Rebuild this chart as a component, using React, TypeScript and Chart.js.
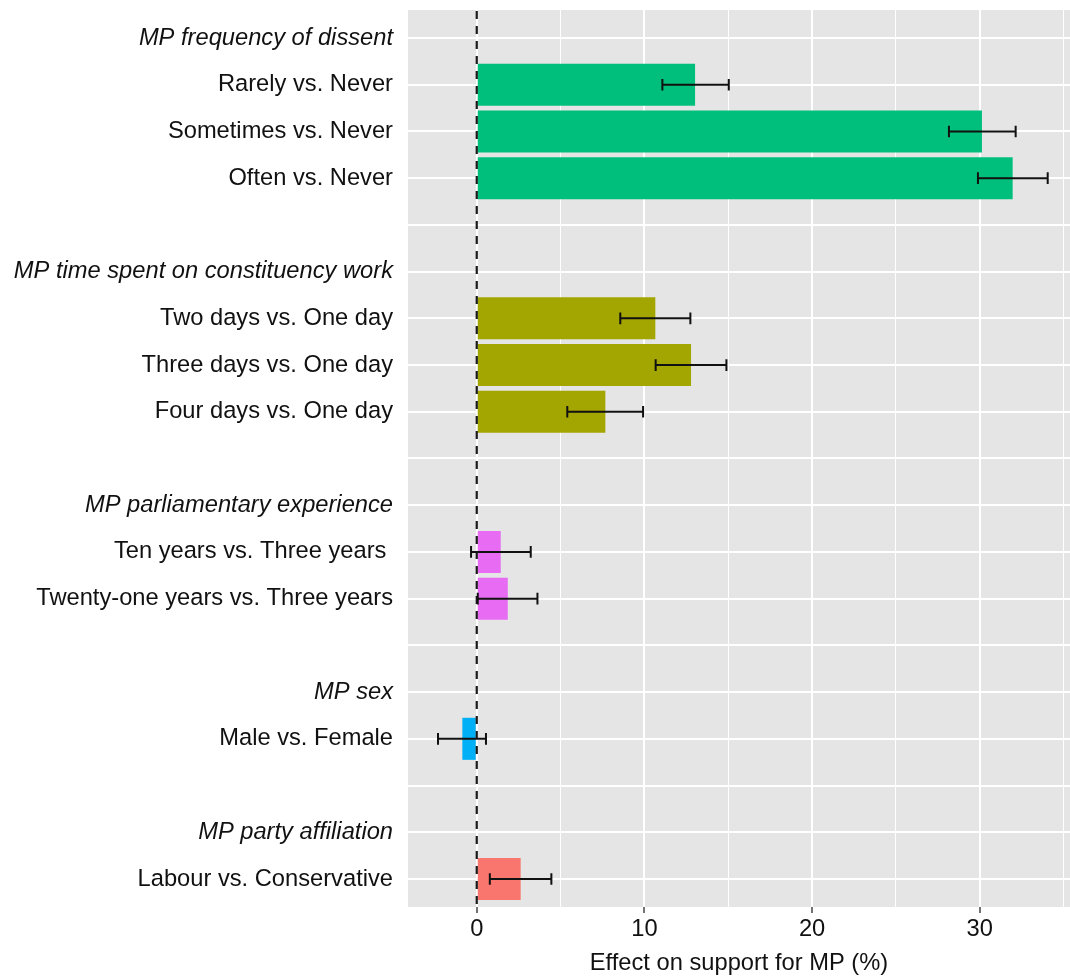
import React, { useEffect, useRef } from 'react';
import { Chart, registerables } from 'chart.js';

Chart.register(...registerables);

// ---- Data ----
const rowLabels: string[] = [
  'MP frequency of dissent',
  'Rarely vs. Never',
  'Sometimes vs. Never',
  'Often vs. Never',
  '',
  'MP time spent on constituency work',
  'Two days vs. One day',
  'Three days vs. One day',
  'Four days vs. One day',
  '',
  'MP parliamentary experience',
  'Ten years vs. Three years ',
  'Twenty-one years vs. Three years',
  '',
  'MP sex',
  'Male vs. Female',
  '',
  'MP party affiliation',
  'Labour vs. Conservative',
];

const headerLabels: string[] = [
  'MP frequency of dissent',
  'MP time spent on constituency work',
  'MP parliamentary experience',
  'MP sex',
  'MP party affiliation',
];

const itemLabels: string[] = [
  'Rarely vs. Never',
  'Sometimes vs. Never',
  'Often vs. Never',
  'Two days vs. One day',
  'Three days vs. One day',
  'Four days vs. One day',
  'Ten years vs. Three years ',
  'Twenty-one years vs. Three years',
  'Male vs. Female',
  'Labour vs. Conservative',
];

const effects: number[] = [13.02, 30.13, 31.96, 10.65, 12.78, 7.67, 1.43, 1.85, -0.86, 2.62];
const lowerCI: number[] = [11.07, 28.16, 29.89, 8.56, 10.67, 5.4, -0.34, 0.06, -2.31, 0.78];
const upperCI: number[] = [15.03, 32.14, 34.05, 12.74, 14.89, 9.92, 3.22, 3.62, 0.55, 4.45];
const itemGroup: number[] = [0, 0, 0, 1, 1, 1, 2, 2, 3, 4];
const groupColors: string[] = ['#00BF7D', '#A3A500', '#E76BF3', '#00B0F6', '#F8766D'];

const xTickValues: number[] = [0, 5, 10, 15, 20, 25, 30, 35];
const xMajorTicks: number[] = [0, 10, 20, 30];
const xTitle = 'Effect on support for MP (%)';

const FONT = "'Liberation Sans', Arial, Helvetica, sans-serif";
const FONT_SIZE = 23.7;
const TEXT_COLOR = '#111111';
const PANEL_BG = '#E5E5E5';

const panelPlugin = {
  id: 'panelBg',
  beforeDraw(chart: any) {
    const { ctx, chartArea } = chart;
    ctx.save();
    ctx.fillStyle = PANEL_BG;
    ctx.fillRect(chartArea.left, chartArea.top, chartArea.right - chartArea.left, chartArea.bottom - chartArea.top);
    ctx.restore();
  },
};

const overlayPlugin = {
  id: 'overlay',
  afterDatasetsDraw(chart: any) {
    const { ctx, chartArea, scales } = chart;
    const x = scales.x;
    const y = scales.y;
    ctx.save();
    // dashed zero reference line
    const x0 = x.getPixelForValue(0);
    ctx.strokeStyle = '#1a1a1a';
    ctx.lineWidth = 2.2;
    ctx.setLineDash([8, 7]);
    ctx.beginPath();
    ctx.moveTo(x0, chartArea.top + 1);
    ctx.lineTo(x0, chartArea.bottom);
    ctx.stroke();
    ctx.setLineDash([]);
    // error bars
    const step = Math.abs(y.getPixelForValue(1) - y.getPixelForValue(0));
    const half = step * 0.125;
    ctx.strokeStyle = '#111111';
    ctx.lineWidth = 2;
    itemLabels.forEach((lab, i) => {
      const yy = y.getPixelForValue(rowLabels.indexOf(lab));
      const xl = x.getPixelForValue(lowerCI[i]);
      const xr = x.getPixelForValue(upperCI[i]);
      ctx.beginPath();
      ctx.moveTo(xl, yy);
      ctx.lineTo(xr, yy);
      ctx.moveTo(xl, yy - half);
      ctx.lineTo(xl, yy + half);
      ctx.moveTo(xr, yy - half);
      ctx.lineTo(xr, yy + half);
      ctx.stroke();
    });
    ctx.restore();
  },
};

export default function App() {
  const canvasRef = useRef<HTMLCanvasElement | null>(null);

  useEffect(() => {
    const canvas = canvasRef.current;
    if (!canvas) return;
    const data = itemLabels.map((lab, i) => ({ x: effects[i], y: rowLabels.indexOf(lab) }));
    const colors = itemGroup.map((g) => groupColors[g]);

    const chart = new Chart(canvas, {
      type: 'bar',
      data: {
        datasets: [
          {
            data: data as any,
            backgroundColor: colors,
            borderWidth: 0,
            categoryPercentage: 1,
            barPercentage: 0.9,
          } as any,
        ],
      },
      plugins: [panelPlugin, overlayPlugin],
      options: {
        indexAxis: 'y',
        animation: false,
        responsive: false,
        maintainAspectRatio: false,
        layout: { padding: { top: 10, left: 0, right: 0, bottom: 0 } },
        plugins: {
          legend: { display: false },
          tooltip: { enabled: false },
          title: { display: false },
        },
        scales: {
          x: {
            type: 'linear',
            position: 'bottom',
            min: -4.1,
            max: 35.38,
            bounds: 'data',
            offset: false,
            afterBuildTicks: (scale: any) => {
              scale.ticks = xTickValues.map((v) => ({ value: v }));
            },
            afterFit: (scale: any) => {
              scale.height = 73;
              scale.paddingLeft = 0;
              scale.paddingRight = 0;
            },
            border: { display: false },
            grid: {
              offset: false,
              color: '#FFFFFF',
              lineWidth: (ctx: any) => (xMajorTicks.includes(ctx.tick?.value) ? 2 : 1),
              drawTicks: true,
              tickLength: 6,
              tickWidth: 1.5,
              tickColor: (ctx: any) => (xMajorTicks.includes(ctx.tick?.value) ? '#444444' : 'rgba(0,0,0,0)'),
            },
            ticks: {
              autoSkip: false,
              maxRotation: 0,
              padding: 2,
              color: TEXT_COLOR,
              font: { family: FONT, size: FONT_SIZE },
              callback: (value: any) => (xMajorTicks.includes(Number(value)) ? String(value) : ''),
            },
            title: {
              display: true,
              text: xTitle,
              color: TEXT_COLOR,
              font: { family: FONT, size: FONT_SIZE },
              padding: { top: 0, bottom: 2 },
            },
          },
          y: {
            type: 'linear',
            position: 'left',
            reverse: true,
            min: -0.6,
            max: 18.6,
            bounds: 'data',
            offset: false,
            afterBuildTicks: (scale: any) => {
              scale.ticks = rowLabels.map((_, i) => ({ value: i }));
            },
            afterFit: (scale: any) => {
              scale.width = 408;
              scale.paddingTop = 0;
              scale.paddingBottom = 0;
            },
            border: { display: false },
            grid: {
              offset: false,
              color: '#FFFFFF',
              lineWidth: 2,
              drawTicks: false,
            },
            ticks: {
              autoSkip: false,
              padding: 15,
              color: TEXT_COLOR,
              font: (ctx: any) => ({
                family: FONT,
                size: FONT_SIZE,
                style: headerLabels.includes(rowLabels[ctx.index]) ? 'italic' : 'normal',
              }),
              callback: (value: any) => rowLabels[Number(value)] ?? '',
            },
          },
        },
      } as any,
    });

    return () => chart.destroy();
  }, []);

  return (
    <div style={{ position: 'absolute', left: 0, top: 0, width: 1070, height: 980, background: '#FFFFFF' }}>
      <canvas ref={canvasRef} width={1070} height={980} style={{ width: 1070, height: 980, display: 'block' }} />
    </div>
  );
}
